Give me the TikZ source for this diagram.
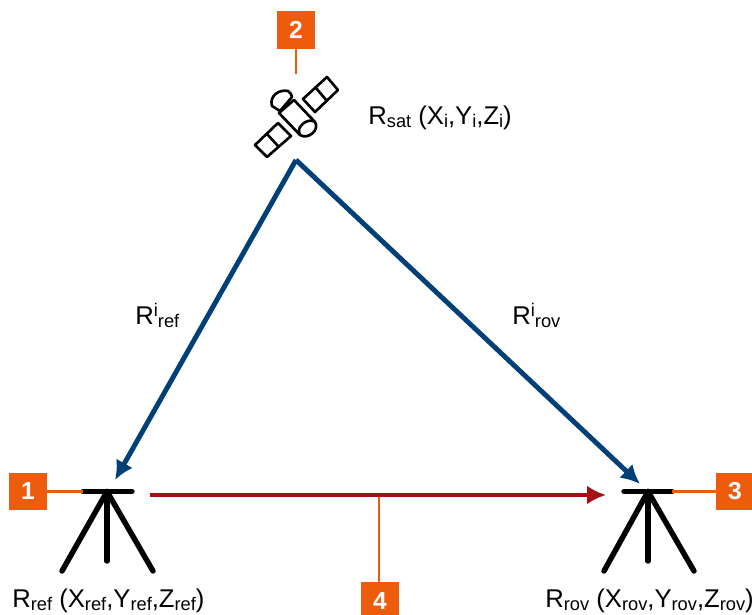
\documentclass[tikz,border=0pt]{standalone}
\usepackage{fontspec}
\setmainfont{Liberation Sans}
\usepackage{xcolor}
\usetikzlibrary{arrows.meta}
\definecolor{markorange}{HTML}{EC5C0C}
\definecolor{rayblue}{HTML}{004077}
\definecolor{basered}{HTML}{A50F15}
\newcommand{\lowtxt}[1]{\raisebox{-0.22ex}{\fontsize{10.4pt}{10.4pt}\selectfont #1}}
\newcommand{\hightxt}[1]{\raisebox{0.6ex}{\fontsize{10.4pt}{10.4pt}\selectfont #1}}
\begin{document}
\begin{tikzpicture}[
    x=0.02cm, y=-0.02cm,
    marker/.style={fill=markorange, text=white, minimum size=0.76cm, inner sep=0pt, font=\fontsize{14pt}{14pt}\selectfont\bfseries},
    lead/.style={draw=markorange, line width=1.7pt},
    ray/.style={draw=rayblue, line width=2.8pt, -{Latex[length=0.38cm,width=0.38cm]}},
    baseline/.style={draw=basered, line width=2.7pt, -{Latex[length=0.38cm,width=0.38cm]}},
    leg/.style={draw=black, line width=3.1pt, line cap=round},
    sat/.style={draw=black, line width=1.5pt, line join=round, fill=white},
    lbl/.style={inner sep=0pt, font=\fontsize{14.6pt}{14.6pt}\selectfont}
]
\useasboundingbox (0,0) rectangle (752,615);

% tripods
\coordinate (refhead) at (107,491.5);
\coordinate (rovhead) at (648,491.5);
\draw[leg] (83,491.5) -- (132,491.5);
\draw[leg] (refhead) -- (62,571);
\draw[leg] (refhead) -- (107,561);
\draw[leg] (refhead) -- (153,571);
\draw[leg] (624,491.5) -- (672,491.5);
\draw[leg] (rovhead) -- (604,571);
\draw[leg] (rovhead) -- (648,561);
\draw[leg] (rovhead) -- (694,571);

% satellite
\draw[sat] (327,77) -- (338,90) -- (315,112) -- (303,99) -- cycle;
\draw[sat] (316,88) -- (327,101);
\draw[sat] (278,123) -- (291,136) -- (267,157) -- (255,145) -- cycle;
\draw[sat] (267,134) -- (278,146);
\draw[sat] (292,97) .. controls (292,95) and (290,92) .. (288,91) .. controls (279,89) and (269,96) .. (272,106) -- (280,111) -- cycle;
\draw[sat] (294,100) -- (315,122) .. controls (320,130) and (308,140) .. (300,135) -- (279,113) -- cycle;
\draw[sat] (315,122) .. controls (308,117) and (295,127) .. (300,135);

% markers
\node[marker] (mark1) at (28,491.5) {1};
\node[marker] (mark2) at (296,30) {2};
\node[marker] (mark3) at (735,491.5) {3};
\node[marker] (mark4) at (380,601) {4};
\coordinate (satfoot) at (296,74);
\coordinate (refbar) at (83,491.5);
\coordinate (rovbar) at (672,491.5);
\coordinate (linebase) at (379,495);
\draw[lead] (mark1) -- (refbar);
\draw[lead] (mark2) -- (satfoot);
\draw[lead] (mark3) -- (rovbar);
\draw[lead] (mark4.north -| linebase) -- (linebase);

% rays
\coordinate (apex) at (296,160);
\coordinate (reftip) at (115,480);
\coordinate (rovtip) at (640,484);
\coordinate (basestart) at (150,495);
\coordinate (baseend) at (606,495);
\draw[ray] (apex) -- (reftip);
\draw[ray] (apex) -- (rovtip);
\draw[baseline] (basestart) -- (baseend);

% labels
\node[lbl, anchor=base west] (satlabel) at (368,125) {R\lowtxt{sat} (X\lowtxt{i},Y\lowtxt{i},Z\lowtxt{i})};
\node[lbl, anchor=base west] (reflabel) at (135,325) {R\hightxt{i}\lowtxt{ref}};
\node[lbl, anchor=base west] (rovlabel) at (512,325) {R\hightxt{i}\lowtxt{rov}};
\node[lbl, anchor=base west] (refcoord) at (12,608) {R\lowtxt{ref} (X\lowtxt{ref},Y\lowtxt{ref},Z\lowtxt{ref})};
\node[lbl, anchor=base west] (rovcoord) at (545,608) {R\lowtxt{rov} (X\lowtxt{rov},Y\lowtxt{rov},Z\lowtxt{rov})};
\end{tikzpicture}
\end{document}
